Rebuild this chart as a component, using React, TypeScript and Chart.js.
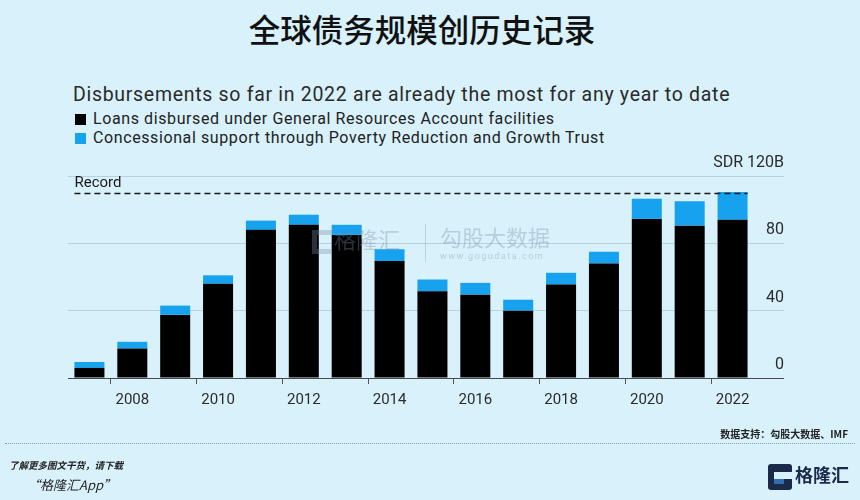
import React, { useEffect, useRef } from "react";
import { Chart, registerables } from "chart.js";

Chart.register(...registerables);

const TITLE = "全球债务规模创历史记录";
const SUBTITLE = "Disbursements so far in 2022 are already the most for any year to date";
const SERIES_NAMES = [
  "Loans disbursed under General Resources Account facilities",
  "Concessional support through Poverty Reduction and Growth Trust",
];
const YEARS = ["2007", "2008", "2009", "2010", "2011", "2012", "2013", "2014", "2015", "2016", "2017", "2018", "2019", "2020", "2021", "2022"];
const GRA_LOANS = [6, 17.5, 37.5, 56, 88, 91, 85, 69.5, 51.5, 49.5, 40, 55.5, 68, 94.5, 90.5, 94];
const PRGT_SUPPORT = [3.5, 4, 5.5, 5, 5.5, 6, 6, 7, 7, 7, 6.5, 7, 7, 12, 14.5, 16.5];
const RECORD = 110;
const Y_TICKS = [0, 40, 80, 120];
const Y_UNIT_LABEL = "SDR 120B";
const SOURCE = "数据支持：勾股大数据、IMF";

const BG = "#d8f1fb";
const BLUE = "#17a2ef";
const FONT = "Roboto, 'Liberation Sans', Arial, sans-serif";

const recordPlugin = {
  id: "recordLine",
  afterDatasetsDraw(chart: any) {
    const { ctx, scales } = chart;
    const y = scales.y;
    const meta = chart.getDatasetMeta(0);
    const first = meta.data[0];
    const last = meta.data[meta.data.length - 1];
    const x0 = first.x - first.width / 2;
    const x1 = last.x + last.width / 2;
    const yp = Math.round(y.getPixelForValue(RECORD)) + 0.5;
    ctx.save();
    ctx.setLineDash([6, 4]);
    ctx.strokeStyle = "#1a1a1a";
    ctx.lineWidth = 1.5;
    ctx.beginPath();
    ctx.moveTo(x0, yp);
    ctx.lineTo(x1, yp);
    ctx.stroke();
    ctx.setLineDash([]);
    ctx.fillStyle = "#1a1a1a";
    ctx.font = `15px ${FONT}`;
    ctx.textAlign = "left";
    ctx.textBaseline = "bottom";
    ctx.fillText("Record", x0, yp - 3);
    ctx.restore();
  },
};

function BarChart() {
  const ref = useRef<HTMLCanvasElement>(null);
  useEffect(() => {
    if (!ref.current) return;
    const chart = new Chart(ref.current, {
      type: "bar",
      data: {
        labels: YEARS,
        datasets: [
          { label: SERIES_NAMES[0], data: GRA_LOANS, backgroundColor: "#000000", borderWidth: 0 },
          { label: SERIES_NAMES[1], data: PRGT_SUPPORT, backgroundColor: BLUE, borderWidth: 0 },
        ],
      },
      options: {
        responsive: false,
        animation: false,
        events: [],
        layout: { padding: { top: 176, left: 68, right: 76, bottom: 82 } },
        datasets: { bar: { categoryPercentage: 1, barPercentage: 0.7 } },
        plugins: { legend: { display: false }, tooltip: { enabled: false } },
        scales: {
          x: {
            stacked: true,
            grid: {
              drawOnChartArea: false,
              drawTicks: true,
              tickLength: 6,
              color: (c: any) => (c.index % 2 === 1 ? "#555" : "rgba(0,0,0,0)"),
            },
            border: { display: false },
            ticks: {
              autoSkip: false,
              maxRotation: 0,
              padding: 7,
              color: "#2b2b2b",
              font: { size: 15, family: FONT },
              callback: (_v: any, i: number) => (i % 2 === 1 ? YEARS[i] : ""),
            },
            afterFit: (s: any) => {
              s.height = 40;
            },
          },
          y: {
            stacked: true,
            position: "right",
            min: 0,
            max: 120,
            afterBuildTicks: (s: any) => {
              s.ticks = Y_TICKS.map((v) => ({ value: v }));
            },
            grid: {
              drawTicks: true,
              tickLength: 30,
              lineWidth: 1,
              color: (c: any) => (c.tick && c.tick.value === 0 ? "#4a4a4a" : "#b6d2dd"),
            },
            border: { display: false },
            ticks: {
              mirror: true,
              crossAlign: "near",
              labelOffset: -13,
              padding: 30,
              color: "#2b2b2b",
              font: { size: 16, family: FONT },
              callback: (v: any) => (v === 120 ? Y_UNIT_LABEL : String(v)),
            },
            afterFit: (s: any) => {
              s.width = 30;
            },
          },
        },
      },
      plugins: [recordPlugin],
    });
    return () => chart.destroy();
  }, []);
  return <canvas ref={ref} width={860} height={500} style={{ position: "absolute", left: 0, top: 0 }} />;
}

export default function App() {
  const sq = (color: string) => ({
    display: "inline-block",
    width: 11,
    height: 11,
    background: color,
    marginRight: 7,
    verticalAlign: "-1px",
  });
  return (
    <div style={{ position: "fixed", left: 0, top: 0, width: 860, height: 500, background: BG, overflow: "hidden", fontFamily: FONT }}>
      <div style={{ position: "absolute", left: 0, top: 8, width: 844, textAlign: "center", fontFamily: "'Noto Sans CJK SC', sans-serif", fontSize: 31.5, fontWeight: 500, color: "#111", lineHeight: "40px" }}>
        {TITLE}
      </div>
      <div style={{ position: "absolute", left: 73, top: 83, fontSize: 19.5, letterSpacing: 0.7, color: "#2a2a2a", lineHeight: "24px", whiteSpace: "nowrap" }}>
        {SUBTITLE}
      </div>
      <div style={{ position: "absolute", left: 75, top: 109, fontSize: 16, letterSpacing: 0.6, color: "#222", lineHeight: "19px", whiteSpace: "nowrap" }}>
        <div><span style={sq("#000")} />{SERIES_NAMES[0]}</div>
        <div><span style={sq(BLUE)} />{SERIES_NAMES[1]}</div>
      </div>
      <BarChart />
      <div style={{ position: "absolute", left: 312, top: 222, color: "rgba(120,140,165,0.35)", fontFamily: "'Noto Sans CJK SC', sans-serif", fontSize: 22, pointerEvents: "none", whiteSpace: "nowrap" }}>
        <span style={{ display: "inline-block", width: 20, height: 24, border: "5px solid rgba(120,140,165,0.35)", borderRight: "none", verticalAlign: "-6px", marginRight: 2, boxSizing: "border-box" }} />
        格隆汇
      </div>
      <div style={{ position: "absolute", left: 425, top: 224, width: 1, height: 38, background: "rgba(120,140,165,0.3)" }} />
      <div style={{ position: "absolute", left: 440, top: 222, color: "rgba(120,140,165,0.35)", fontFamily: "'Noto Sans CJK SC', sans-serif", fontSize: 22, lineHeight: "28px", whiteSpace: "nowrap" }}>
        勾股大数据
        <div style={{ fontSize: 9, letterSpacing: 1.5, lineHeight: "12px", fontFamily: FONT }}>www.gogudata.com</div>
      </div>
      <div style={{ position: "absolute", right: 12, top: 426, fontFamily: "'Noto Sans CJK SC', sans-serif", fontSize: 10, fontWeight: 700, color: "#222", whiteSpace: "nowrap" }}>
        {SOURCE}
      </div>
      <div style={{ position: "absolute", left: 5, top: 443, width: 850, borderTop: "1px dotted #8a9aa4" }} />
      <div style={{ position: "absolute", left: 9, top: 458, fontFamily: "'Noto Sans CJK SC', sans-serif", fontSize: 9.5, fontStyle: "italic", fontWeight: 700, color: "#222", whiteSpace: "nowrap" }}>
        了解更多图文干货，请下载
      </div>
      <div style={{ position: "absolute", left: 27, top: 475, fontFamily: "'Noto Sans CJK SC', sans-serif", fontSize: 13, fontStyle: "italic", color: "#222", whiteSpace: "nowrap" }}>
        “格隆汇App”
      </div>
      <div style={{ position: "absolute", left: 768, top: 464, width: 24, height: 26, background: "#1b2a4a", borderRadius: 3 }}>
        <div style={{ position: "absolute", left: 6, top: 8, width: 18, height: 7, background: BG }} />
        <div style={{ position: "absolute", left: 6, top: 15, width: 10, height: 5, background: "#2f6db5" }} />
      </div>
      <div style={{ position: "absolute", left: 795, top: 459, fontFamily: "'Noto Sans CJK SC', sans-serif", fontSize: 18, fontWeight: 700, color: "#1b2a4a", whiteSpace: "nowrap", lineHeight: "30px" }}>
        格隆汇
      </div>
    </div>
  );
}
